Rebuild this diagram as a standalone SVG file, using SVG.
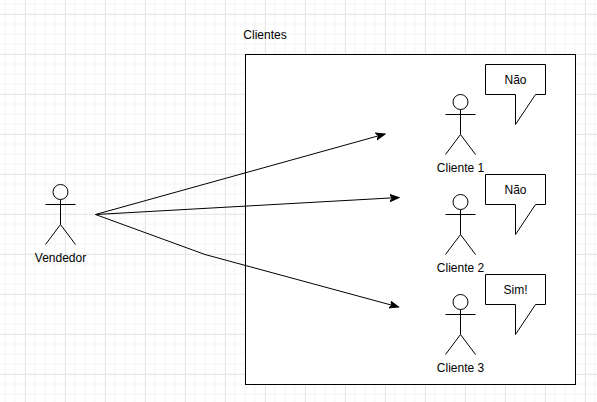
<svg xmlns="http://www.w3.org/2000/svg" width="597" height="402" viewBox="0 0 597 402">
<style>
.s{fill:none;stroke:#000;stroke-width:1}
.b{fill:#fff;stroke:#000;stroke-width:1}
.t{font-family:"Liberation Sans",Arial,sans-serif;font-size:12px;fill:#000;text-anchor:middle}
.c{fill:none;stroke:#000;stroke-width:1;marker-end:url(#a)}
</style>
<defs>
<marker id="a" markerUnits="userSpaceOnUse" markerWidth="12" markerHeight="10" refX="9" refY="4.5" orient="auto" viewBox="0 0 12 10"><path d="M0 1 L9 4.5 L0 8 L2.2 4.5 Z" fill="#000" stroke="#000"/></marker>
<pattern id="m" width="10" height="10" patternUnits="userSpaceOnUse" x="0" y="-1"><path d="M5 0V10M0 5H10" fill="none" stroke="#f9f9f9" stroke-width="2"/></pattern>
<pattern id="g" width="40" height="40" patternUnits="userSpaceOnUse" x="25" y="14"><path d="M.5 0V40M0 .5H40" fill="none" stroke="#e8e8e8"/></pattern>
<g id="fig"><ellipse cx="15" cy="7.5" rx="7.5" ry="7.5" class="b"/><path class="s" d="M15 15V40M15 20H0M15 20H30M15 40L0 60M15 40L30 60"/></g>
<path id="call" class="b" d="M0 0H60V30H50L30 60V30H0Z"/>
</defs>
<rect width="597" height="402" fill="#fff"/>
<rect width="597" height="402" fill="url(#m)"/>
<rect width="597" height="402" fill="url(#g)"/>
<g id="clientes"><rect x="245.5" y="54.5" width="330" height="330" class="b"/><text x="265" y="39" class="t">Clientes</text></g>
<g id="vendedor"><use href="#fig" x="45.5" y="184.5"/><text x="60.5" y="262" class="t">Vendedor</text></g>
<g id="cliente1"><use href="#fig" x="445.5" y="94.5"/><text x="460.5" y="172" class="t">Cliente 1</text></g>
<g id="cliente2"><use href="#fig" x="445.5" y="194.5"/><text x="460.5" y="272" class="t">Cliente 2</text></g>
<g id="cliente3"><use href="#fig" x="445.5" y="294.5"/><text x="460.5" y="372" class="t">Cliente 3</text></g>
<g id="fala1"><use href="#call" x="485.5" y="64.5"/><text x="515.5" y="84" class="t">Não</text></g>
<g id="fala2"><use href="#call" x="485.5" y="174.5"/><text x="515.5" y="194" class="t">Não</text></g>
<g id="fala3"><use href="#call" x="485.5" y="274.5"/><text x="515.5" y="294" class="t">Sim!</text></g>
<g id="connectors">
<path class="c" d="M95.5 214.5L385 134"/>
<path class="c" d="M95.5 214.5L399 197.5"/>
<path class="c" d="M95.5 214.5L205 254.5L398.5 307"/>
</g>
</svg>
